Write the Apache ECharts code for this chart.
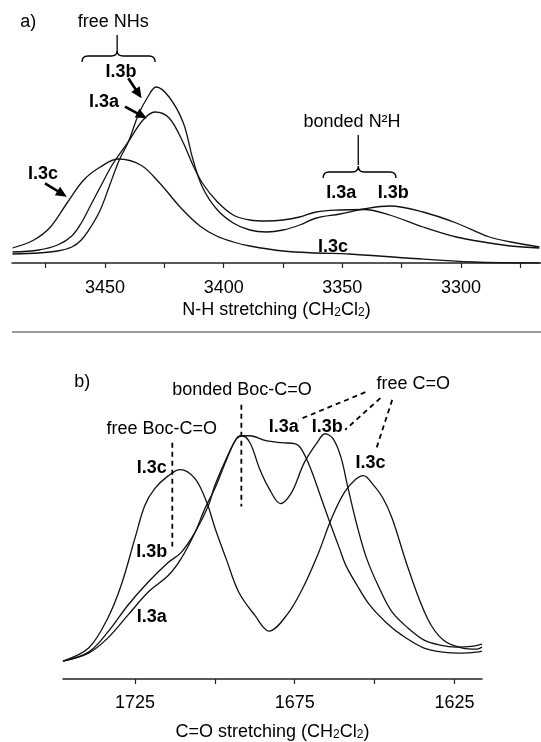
<!DOCTYPE html>
<html><head><meta charset="utf-8">
<script src="https://cdn.jsdelivr.net/npm/echarts@6/dist/echarts.min.js"></script>
<style>html,body{margin:0;background:#fff}#c{width:541px;height:742px}</style>
</head><body><div id="c"></div>
<script>
// a) N-H stretching region: [wavenumber, absorbance (arb.)]
const nhA = [[3489,13],[3478,15],[3470,20],[3464,29],[3460,42],[3456,60],[3452,78],[3447,100],[3440,124],[3434,145],[3429,153],[3423,147],[3417,122],[3413,100],[3409,82],[3403,64],[3396,50],[3389,45],[3382,44],[3375,45],[3368,48],[3361,53],[3351,55],[3341,55.5],[3330,50],[3316,38],[3302,28],[3288,22],[3279,19],[3267,17]];
const nhB = [[3489,11],[3478,12],[3470,14],[3464,18],[3460,25],[3456,38],[3452,55],[3448,80],[3444,105],[3440,124],[3436,150],[3432,168],[3428.5,178],[3423,168],[3417,142],[3413,106],[3409,78],[3403,56],[3396,42],[3389,35],[3382,33],[3375,35],[3368,40],[3361,47],[3351,51],[3341,56],[3330,59],[3316,53],[3302,42],[3288,28],[3279,23],[3267,18]];
const nhC = [[3489,17],[3480,25],[3473,38],[3466,62],[3459,85],[3452,98],[3444.5,106],[3435,100],[3427,82],[3418,57],[3410,39],[3403,29],[3396,23],[3389,19],[3375,14],[3361,12],[3347,11],[3323,7],[3295,3],[3267,2]];
const nhTicks = [3475,3450,3425,3400,3375,3350,3325,3300,3275];
const nhLabels = [3450,3400,3350,3300];

// b) C=O stretching region
const coA = [[1747.5,18],[1739.5,26],[1733.5,41],[1727.2,64],[1720.9,87],[1714.5,104],[1710.5,121],[1706.2,147],[1703.1,171],[1700,191],[1696.2,221],[1693.2,241],[1691.3,244],[1689,244],[1684,239],[1679,237],[1675,236],[1673,231],[1670,211],[1667,184],[1664,157],[1661,131],[1659,114],[1655.5,94],[1651.5,74],[1646.5,57],[1641.5,44],[1634.5,31],[1628.5,27],[1622.5,26],[1618,27],[1616.4,28]];
const coB = [[1747.5,18],[1739.5,27],[1733.5,47],[1727.2,74],[1720.9,97],[1714.5,117],[1710.5,127],[1706.2,147],[1702,174],[1700,194],[1696,224],[1693,242],[1691.5,244],[1689,237],[1686,211],[1683,191],[1679.5,176],[1676,187],[1672,217],[1668,237],[1665.5,246],[1663,241],[1660.5,222],[1658.5,194],[1655.5,154],[1652.5,121],[1648.5,91],[1644.5,67],[1639.5,51],[1634.5,39],[1629.5,34],[1624.5,32],[1619,33],[1616.4,35]];
const coC = [[1747.5,18],[1739.5,31],[1733.5,61],[1729.3,94],[1725,141],[1721.9,174],[1718.8,191],[1714.5,204],[1710.9,210],[1706.2,201],[1702.5,177],[1699.9,151],[1696.5,121],[1692.5,87],[1687.5,64],[1683,48],[1677.5,64],[1672.5,91],[1667.5,127],[1663.5,161],[1659.5,187],[1656,200],[1653.5,204],[1650.5,195],[1647.5,182],[1644.5,161],[1639.5,111],[1633.5,61],[1628.5,39],[1622.5,31],[1618,30],[1616.4,32]];
const coTicks = [1725,1700,1675,1650,1625];
const coLabels = [1725,1675,1625];

// annotations: [text, wavenumber, absorbance, bold]
const nhText = [['a)',3482.4,243],['free NHs',3446.5,243],['I.3b',3443.3,193,1],['I.3a',3450.4,163,1],['I.3c',3476.1,91,1],
  ['bonded N\u00b2H',3345.9,143],['I.3a',3350.5,72,1],['I.3b',3328.6,72,1],['I.3c',3353.9,18,1]];
const coText = [['b)',1741.5,298],['bonded Boc-C=O',1691.5,290],['free Boc-C=O',1716.6,251],['free C=O',1637.9,296],
  ['I.3c',1719.7,212,1],['I.3b',1719.7,127,1],['I.3a',1719.7,62,1],['I.3a',1678.4,253,1],['I.3b',1664.8,253,1],['I.3c',1651.3,217,1]];
// segments: [x1,y1,x2,y2,kind] kind 0 plain, 1 arrow, 2 dashed
const nhSeg = [[3440.2,186.7,3434.6,166.7,1],[3441.6,158.3,3432.4,146.7,1],[3475.3,81.7,3466.1,68.3,1],
  [3444.9,230,3444.9,213,0],[3343.3,130,3343.3,100,0]];
const coSeg = [[1713.3,237,1713.3,133,2],[1691.7,275,1691.7,173,2],[1652.9,287.7,1673.8,260,2],[1648.2,281.7,1659.2,250,2],[1644.5,280,1649.4,231.7,2]];
// braces: [xLeft, xRight, xMid, yEnds, yLine, yCusp]
const nhBrace = [[3459.7,3428.9,3444.9,203,209,214],[3358.1,3327.4,3343.3,87,93,99]];

const FONT = '"Liberation Sans", Arial, Helvetica, sans-serif';
const chart = echarts.init(document.getElementById('c'));

const curve = (data, i) => ({type:'line', xAxisIndex:i, yAxisIndex:i, data, smooth:0.35, symbol:'none',
  lineStyle:{color:'#111', width:1.3}, silent:true, animation:false, z:2});

const texts = (items, i) => ({type:'custom', xAxisIndex:i, yAxisIndex:i, silent:true, animation:false, z:5,
  data: items.map(t => [t[1], t[2]]),
  renderItem: (params, api) => {
    const t = items[params.dataIndex];
    const p = api.coord([api.value(0), api.value(1)]);
    return {type:'text', x:p[0], y:p[1], style:{text:t[0], fill:'#000',
      font:(t[3] ? 'bold ' : '') + '18px ' + FONT, align:'center', verticalAlign:'middle'}};
  }});

const segs = (items, i) => ({type:'custom', xAxisIndex:i, yAxisIndex:i, silent:true, animation:false, z:4,
  data: items.map(s => s.slice(0,4)), encode:{x:[0,2], y:[1,3]},
  renderItem: (params, api) => {
    const kind = items[params.dataIndex][4];
    const a = api.coord([api.value(0), api.value(1)]), b = api.coord([api.value(2), api.value(3)]);
    const ch = [];
    let end = b;
    if (kind === 1) {
      const dx = b[0]-a[0], dy = b[1]-a[1], L = Math.hypot(dx,dy), ux = dx/L, uy = dy/L;
      const hl = 11, hw = 5;
      const bx = b[0]-ux*hl, by = b[1]-uy*hl;
      end = [bx + ux*2, by + uy*2];
      ch.push({type:'polygon', shape:{points:[[b[0],b[1]],[bx-uy*hw,by+ux*hw],[bx+uy*hw,by-ux*hw]]}, style:{fill:'#000'}});
    }
    ch.push({type:'line', shape:{x1:a[0], y1:a[1], x2:end[0], y2:end[1]},
      style:{stroke:'#000', lineWidth: kind === 1 ? 2.6 : (kind === 2 ? 1.8 : 1.3), lineDash: kind === 2 ? [5,4] : null}});
    return {type:'group', children:ch};
  }});

const braces = (items, i) => ({type:'custom', xAxisIndex:i, yAxisIndex:i, silent:true, animation:false, z:4,
  data: items, encode:{x:[0,1,2], y:[3,4,5]},
  renderItem: (params, api) => {
    const a = api.coord([api.value(0), api.value(3)]), b = api.coord([api.value(1), api.value(3)]);
    const m = api.coord([api.value(2), api.value(4)]), c = api.coord([api.value(2), api.value(5)]);
    const x1 = Math.min(a[0], b[0]), x2 = Math.max(a[0], b[0]), ye = a[1], yh = m[1], xm = m[0], yc = c[1], r = 6;
    const d = `M${x1},${ye} Q${x1},${yh} ${x1+r},${yh} L${xm-r},${yh} Q${xm},${yh} ${xm},${yc} Q${xm},${yh} ${xm+r},${yh} L${x2-r},${yh} Q${x2},${yh} ${x2},${ye}`;
    return {type:'path', shape:{pathData:d}, style:{stroke:'#000', fill:null, lineWidth:1.4}};
  }});

const axisName = (label) => ({
  name: `{n|${label} (CH}{s|2}{n|Cl}{s|2}{n|)}`,
  nameLocation:'middle',
  nameTextStyle:{rich:{
    n:{fontSize:18, fontFamily:FONT, color:'#000', lineHeight:22, verticalAlign:'bottom'},
    s:{fontSize:12, fontFamily:FONT, color:'#000', lineHeight:14, verticalAlign:'bottom'}}}
});

const xBase = {type:'value', inverse:true, splitLine:{show:false},
  axisLine:{lineStyle:{color:'#222', width:1.5}},
  axisTick:{length:5, lineStyle:{color:'#222', width:1.2}},
  axisLabel:{fontSize:18, fontFamily:FONT, color:'#000', formatter:v => String(v)}};

chart.setOption({
  backgroundColor:'#fff',
  animation:false,
  grid:[{left:12, right:0, top:5, height:258}, {left:63, right:59, top:350, height:330}],
  xAxis:[
    Object.assign({}, xBase, axisName('N-H stretching'), {gridIndex:0, min:3266.3, max:3489.2, nameGap:34,
      axisTick:Object.assign({}, xBase.axisTick, {customValues:nhTicks}),
      axisLabel:Object.assign({}, xBase.axisLabel, {customValues:nhLabels, margin:16})}),
    Object.assign({}, xBase, axisName('C=O stretching'), {gridIndex:1, min:1616.4, max:1747.5, nameGap:40,
      axisTick:Object.assign({}, xBase.axisTick, {customValues:coTicks}),
      axisLabel:Object.assign({}, xBase.axisLabel, {customValues:coLabels, margin:15})})
  ],
  yAxis:[{gridIndex:0, type:'value', min:2, max:260, show:false},
         {gridIndex:1, type:'value', min:0, max:330, show:false}],
  graphic:[{type:'line', shape:{x1:12, y1:332, x2:541, y2:332}, style:{stroke:'#9a9a9a', lineWidth:2}}],
  series:[
    curve(nhA,0), curve(nhB,0), curve(nhC,0),
    curve(coA,1), curve(coB,1), curve(coC,1),
    texts(nhText,0), texts(coText,1), segs(nhSeg,0), segs(coSeg,1), braces(nhBrace,0)
  ]
});
</script></body></html>
